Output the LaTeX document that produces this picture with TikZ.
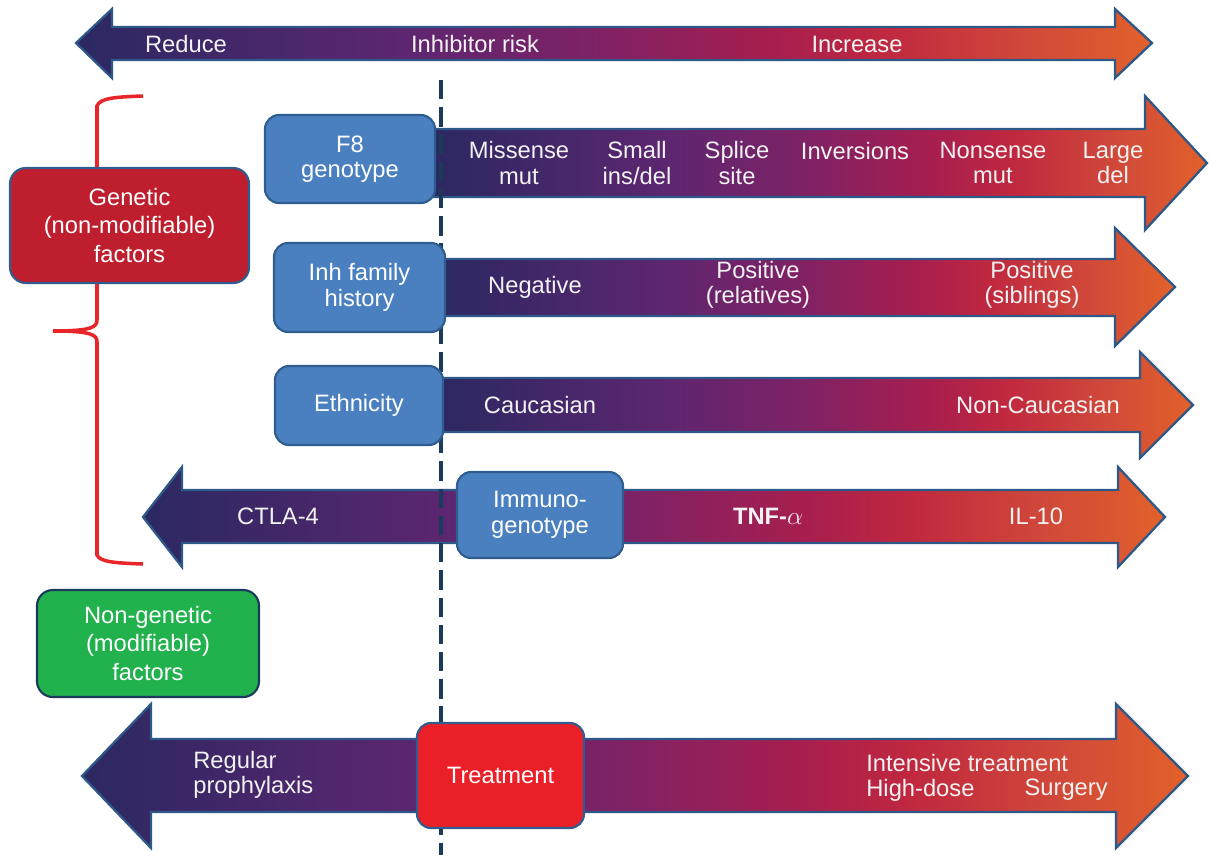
\documentclass[tikz,border=0pt]{standalone}
\usepackage{fontspec}
\setmainfont{Liberation Sans}
\usepackage{tikz}
\usetikzlibrary{positioning}

\definecolor{riskA}{HTML}{2B2862}
\definecolor{riskB}{HTML}{5C2670}
\definecolor{riskC}{HTML}{7E2266}
\definecolor{riskD}{HTML}{A81E4E}
\definecolor{riskE}{HTML}{C0283F}
\definecolor{riskF}{HTML}{D0483A}
\definecolor{riskG}{HTML}{E2612A}
\definecolor{baredge}{HTML}{2D5888}
\definecolor{factorblue}{HTML}{4A80C0}
\definecolor{boxedge}{HTML}{2F5D90}
\definecolor{geneticred}{HTML}{BE1E2D}
\definecolor{nongreen}{HTML}{21B14D}
\definecolor{treatred}{HTML}{EA1F27}
\definecolor{cutnavy}{HTML}{1B3A5C}
\definecolor{bracered}{HTML}{E8262A}

\pgfdeclarehorizontalshading{riskshade}{100bp}{
  color(0bp)=(riskA); color(25bp)=(riskA); color(40bp)=(riskB);
  color(49bp)=(riskC); color(57.5bp)=(riskD); color(62.5bp)=(riskE);
  color(69bp)=(riskF); color(75bp)=(riskG); color(100bp)=(riskG)}

\newcommand{\riskfont}{\fontsize{13.5}{14.5}\selectfont}
\newcommand{\sidefont}{\fontsize{13.5}{16}\selectfont}

\begin{document}
\begin{tikzpicture}[x=0.2mm,y=-0.2mm,
      riskbar/.style={shading=riskshade,draw=baredge,line width=1.3pt,line join=miter},
      factor/.style={rectangle,draw=boxedge,line width=1.2pt,rounded corners=8pt,
                     fill=factorblue,text=white,align=center,font=\riskfont},
      group/.style={rectangle,line width=1.2pt,rounded corners=9pt,
                    text=white,align=center,font=\sidefont},
      barlabel/.style={text=white!95!black,align=center,font=\riskfont,inner sep=0pt},
      cutline/.style={draw=cutnavy,line width=2.8pt,dash pattern=on 11pt off 4.5pt},
      brace/.style={draw=bracered,line width=2pt}
    ]
    \useasboundingbox (0,0) rectangle (1209,855);

    % Inhibitor risk scale
    \path[riskbar] (76,43) -- (112,9) -- (112,27) -- (1115,27) -- (1115,9) -- (1152,43)
      -- (1115,78) -- (1115,60) -- (112,60) -- (112,78) -- cycle;
    \node[barlabel] (reduce) at (186,44) {Reduce};
    \node[barlabel] (risk) at (475,44) {Inhibitor risk};
    \node[barlabel] (increase) at (857,44) {Increase};

    % Genetic bars
    \path[riskbar] (430,129) -- (1145,129) -- (1145,96) -- (1207,163) -- (1145,230)
      -- (1145,197) -- (430,197) -- cycle;
    \path[riskbar] (438,259) -- (1115,259) -- (1115,228) -- (1175,287) -- (1115,346)
      -- (1115,316) -- (438,316) -- cycle;
    \path[riskbar] (438,378) -- (1140,378) -- (1140,352) -- (1193,405) -- (1140,458)
      -- (1140,432) -- (438,432) -- cycle;
    \path[riskbar] (143,517) -- (182,467) -- (182,490) -- (1118,490) -- (1118,467) -- (1165,517)
      -- (1118,567) -- (1118,543) -- (182,543) -- (182,567) -- cycle;

    % Treatment bar
    \path[riskbar] (82,776) -- (151,704) -- (151,739) -- (1116,739) -- (1116,704) -- (1188,776)
      -- (1116,848) -- (1116,812) -- (151,812) -- (151,848) -- cycle;

    % Dashed cut
    \coordinate (cuttop) at (441,80);
    \coordinate (cutbot) at (441,855);
    \draw[cutline] (cuttop) -- (cutbot);

    % Brace
    \draw[brace] (143,96) .. controls (115,97) and (100,98) .. (97,106) -- (97,320)
      .. controls (97,327) and (92,331) .. (53,331)
      .. controls (92,331) and (97,335) .. (97,342) -- (97,555)
      .. controls (100,562) and (115,563) .. (143,564);

    % Factor groups
    \node[group,fill=geneticred,draw=boxedge,minimum width=47.8mm,minimum height=23mm]
      (genetic) at (129.5,225.5) {Genetic\\(non-modifiable)\\factors};
    \node[group,fill=nongreen,draw=cutnavy,minimum width=44.4mm,minimum height=21.4mm]
      (nongenetic) at (148,643.5) {Non-genetic\\(modifiable)\\factors};

    % Factors
    \node[factor,minimum width=34mm,minimum height=17.6mm] (f8) at (350,159) {F8\\genotype};
    \node[factor,minimum width=34.2mm,minimum height=17.8mm] (family) at (359.5,287.5) {Inh family\\history};
    \node[factor,minimum width=33.6mm,minimum height=15.8mm] (ethnic) at (359,405.5) {Ethnicity};
    \node[factor,minimum width=33.2mm,minimum height=17.2mm] (immuno) at (540,515) {Immuno-\\genotype};
    \node[factor,fill=treatred,minimum width=33.4mm,minimum height=21mm] (treat) at (500.5,775.5) {Treatment};

    % F8 genotype labels
    \node[barlabel] (missense) at (519,163) {Missense\\mut};
    \node[barlabel] (small) at (637,163) {Small\\ins/del};
    \node[barlabel] (splice) at (737,163) {Splice\\site};
    \node[barlabel] (inversions) at (855,151) {Inversions};
    \node[barlabel] (nonsense) at (993,163) {Nonsense\\mut};
    \node[barlabel] (large) at (1113,163) {Large\\del};

    % Family history labels
    \node[barlabel] (negative) at (535,287) {Negative};
    \node[barlabel] (relatives) at (758,285) {Positive\\(relatives)};
    \node[barlabel] (siblings) at (1032,285) {Positive\\(siblings)};

    % Ethnicity labels
    \node[barlabel] (caucasian) at (540,405) {Caucasian};
    \node[barlabel] (noncaucasian) at (1038,405) {Non-Caucasian};

    % Immunogenotype labels
    \node[barlabel] (ctla) at (278,516) {CTLA-4};
    \node[barlabel] (tnf) at (768,516) {\textbf{TNF-}$\alpha$};
    \node[barlabel] (il) at (1036,516) {IL-10};

    % Treatment labels
    \node[barlabel,align=left,anchor=west] (prophylaxis) at (193,775) {Regular\\prophylaxis};
    \node[barlabel,anchor=west] (intensive) at (866,763) {Intensive treatment};
    \node[barlabel,anchor=west] (highdose) at (866,790) {High-dose};
    \node[barlabel,anchor=east] (surgery) at (1108,790) {Surgery};

  \end{tikzpicture}
\end{document}
